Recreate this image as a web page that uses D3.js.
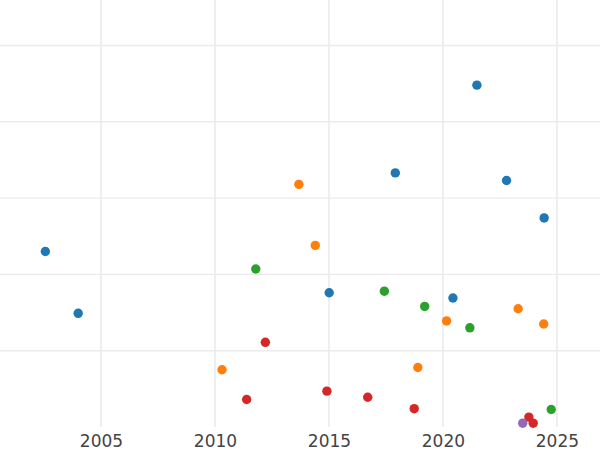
<!DOCTYPE html>
<html>
<head>
<meta charset="utf-8">
<script src="https://cdn.jsdelivr.net/npm/d3@7"></script>
<style>
  html, body { margin: 0; padding: 0; background: #fff; }
  svg { display: block; }
</style>
</head>
<body>
<svg id="chart" width="600" height="450"></svg>
<script>
const groups = ["A", "B", "C", "D", "E"];
const colors = ["#1f77b4", "#ff7f0e", "#2ca02c", "#d62728", "#9467bd"];

const yearsA = [2002.56, 2004.0, 2021.49, 2017.91, 2022.79, 2024.44, 2015.01, 2020.44];
const valuesA = [2.30, 1.49, 4.48, 3.33, 3.23, 2.74, 1.76, 1.69];

const yearsB = [2013.68, 2014.40, 2010.31, 2020.16, 2023.30, 2024.42, 2018.90];
const valuesB = [3.18, 2.38, 0.75, 1.39, 1.55, 1.35, 0.78];

const yearsC = [2011.79, 2017.43, 2019.20, 2021.18, 2024.75];
const valuesC = [2.07, 1.78, 1.58, 1.30, 0.23];

const yearsD = [2012.21, 2011.39, 2014.91, 2016.70, 2018.74, 2023.77, 2023.96];
const valuesD = [1.11, 0.36, 0.47, 0.39, 0.24, 0.13, 0.05];

const yearsE = [2023.50];
const valuesE = [0.05];

const xTicks = [2005, 2010, 2015, 2020, 2025];
const yTicks = [1, 2, 3, 4, 5];

const series = [
  [yearsA, valuesA], [yearsB, valuesB], [yearsC, valuesC], [yearsD, valuesD], [yearsE, valuesE]
].map(([ys, vs], i) => ys.map((y, j) => ({ group: groups[i], year: y, value: vs[j] })));

const W = 600, H = 450;
const plotBottom = 427;
const svg = d3.select("#chart");

const x = d3.scaleLinear().domain([2000.57, 2026.89]).range([0, W]);
const y = d3.scaleLinear().domain([0, 5.596]).range([plotBottom, 0]);
const color = d3.scaleOrdinal().domain(groups).range(colors);

// vertical grid
svg.append("g")
  .selectAll("line").data(xTicks).join("line")
  .attr("x1", d => x(d)).attr("x2", d => x(d))
  .attr("y1", 0).attr("y2", plotBottom)
  .attr("stroke", "#ebebeb").attr("stroke-width", 1.6);

// horizontal grid
svg.append("g")
  .selectAll("line").data(yTicks).join("line")
  .attr("x1", 0).attr("x2", W)
  .attr("y1", d => y(d)).attr("y2", d => y(d))
  .attr("stroke", "#ebebeb").attr("stroke-width", 1.4);

// x axis labels
const xAxis = d3.axisBottom(x).tickValues(xTicks).tickFormat(d3.format("d")).tickSize(0).tickPadding(8);
const gx = svg.append("g").attr("transform", `translate(0,${plotBottom})`).call(xAxis);
gx.select(".domain").remove();
gx.selectAll("text")
  .attr("fill", "#444")
  .style("font-family", "DejaVu Sans")
  .style("font-size", "17px");

// points
svg.append("g")
  .selectAll("g").data(series).join("g")
  .selectAll("circle").data(d => d).join("circle")
  .attr("cx", d => x(d.year))
  .attr("cy", d => y(d.value))
  .attr("r", 4.7)
  .attr("fill", d => color(d.group));
</script>
</body>
</html>
